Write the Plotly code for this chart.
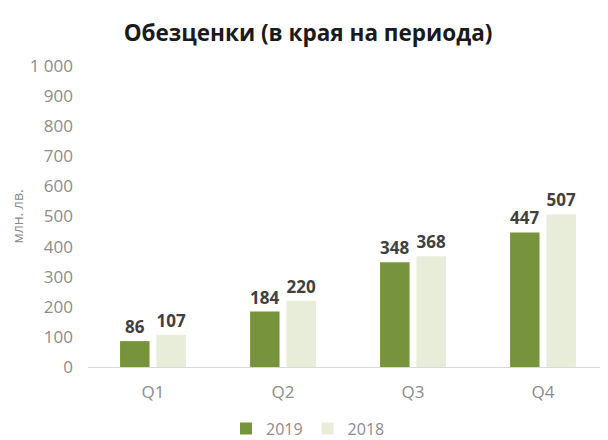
import plotly.graph_objects as go

quarters = ['Q1', 'Q2', 'Q3', 'Q4']
values_2019 = [86, 184, 348, 447]
values_2018 = [107, 220, 368, 507]
y_ticks = [0, 100, 200, 300, 400, 500, 600, 700, 800, 900, 1000]
y_tick_labels = ['0', '100', '200', '300', '400', '500', '600', '700', '800', '900', '1 000']

fig = go.Figure()
fig.add_trace(go.Bar(
    x=quarters, y=values_2019, name='2019',
    marker_color='#77933C', text=values_2019,
))
fig.add_trace(go.Bar(
    x=quarters, y=values_2018, name='2018',
    marker_color='#E8EDDA', text=values_2018,
))

fig.update_traces(
    textposition='outside',
    textfont=dict(family='Open Sans', size=17, color='#404040', weight='bold'),
    marker_line_width=0,
    cliponaxis=False,
)

# page body has an 8px margin, so the figure is drawn 8px smaller
fig.update_layout(
    width=600, height=432,
    title=dict(text='<b>Обезценки (в края на периода)</b>', x=0.5, xanchor='center',
               xref='container', y=1 - 25 / 432, yref='container', yanchor='middle',
               font=dict(family='Open Sans', size=22.5, color='#1a1a1a')),
    plot_bgcolor='white', paper_bgcolor='white',
    barmode='group', bargap=0.44, bargroupgap=0.19,
    margin=dict(l=80, r=0, t=58, b=73, autoexpand=False),
    showlegend=True,
    legend=dict(orientation='h', x=0.5, xanchor='center', xref='container',
                y=-0.205, yref='paper', yanchor='middle', itemwidth=30,
                font=dict(family='Open Sans', size=16, color='#8c8c8c')),
    xaxis=dict(showline=True, linecolor='#D9D9D9', linewidth=1, ticks='',
               automargin=False, ticklabelstandoff=10,
               tickfont=dict(family='Open Sans', size=17, color='#8c8c8c')),
    yaxis=dict(range=[0, 1000], tickvals=y_ticks, ticktext=y_tick_labels,
               showgrid=False, zeroline=False, showline=False, automargin=False,
               ticklabelstandoff=14,
               tickfont=dict(family='Open Sans', size=17, color='#8c8c8c'),
               title=dict(text='млн. лв.', standoff=4,
                          font=dict(family='Open Sans', size=14, color='#8c8c8c'))),
)

fig.write_html("out.html")
